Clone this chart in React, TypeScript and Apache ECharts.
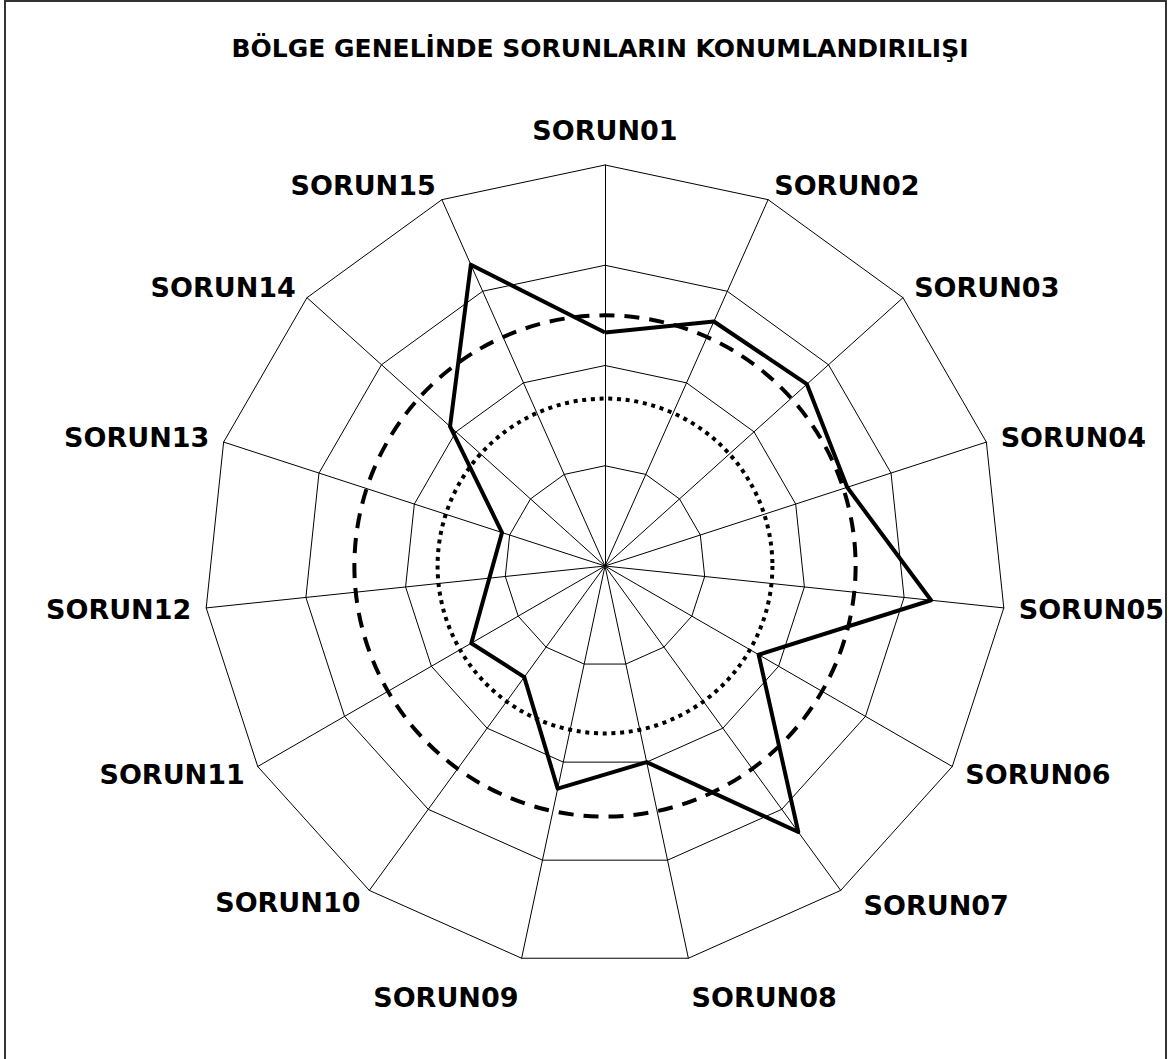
import React, { useEffect, useRef } from "react";
import * as echarts from "echarts";

const categories = [
  "SORUN01", "SORUN02", "SORUN03", "SORUN04", "SORUN05",
  "SORUN06", "SORUN07", "SORUN08", "SORUN09", "SORUN10",
  "SORUN11", "SORUN12", "SORUN13", "SORUN14", "SORUN15",
];
const scores = [2.33, 2.67, 2.71, 2.54, 3.27, 1.77, 3.28, 2.0, 2.27, 1.37, 1.54, 1.16, 1.08, 2.08, 3.29];
const dashedLevel = 2.5;
const dottedLevel = 1.67;
const axisMax = 4;
const titleText = "BÖLGE GENELİNDE SORUNLARIN KONUMLANDIRILIŞI";

export default function App() {
  const ref = useRef<HTMLDivElement>(null);
  useEffect(() => {
    if (!ref.current) return;
    const chart = echarts.init(ref.current, undefined, { renderer: "svg" });
    // ECharts radar runs counter-clockwise; reorder to draw clockwise
    const order = [0, ...Array.from({ length: categories.length - 1 }, (_, i) => categories.length - 1 - i)];
    const indicator = order.map((i) => ({ name: categories[i], min: 0, max: axisMax }));
    const values = order.map((i) => scores[i]);
    const center = [605, 566];
    const radius = 401;
    const font = "'DejaVu Sans', sans-serif";
    const base = { color: "#000", fontFamily: font, fontWeight: "bold", fontSize: 27 };
    chart.setOption({
      animation: false,
      backgroundColor: "#ffffff",
      title: {
        text: titleText,
        left: 595,
        textAlign: "center",
        top: 31,
        textStyle: { fontFamily: font, fontWeight: "bold", fontSize: 25, color: "#000" },
      },
      radar: {
        center,
        radius,
        startAngle: 90,
        shape: "polygon",
        splitNumber: 4,
        indicator,
        nameGap: 15,
        axisName: {
          ...base,
          formatter: (name: string) => {
            if (name === "SORUN01") return "{top|" + name + "}";
            if (name === "SORUN08" || name === "SORUN09") return "{low|" + name + "}";
            if (name === "SORUN07") return "{right|" + name + "}";
            return "{n|" + name + "}";
          },
          rich: {
            n: { ...base },
            top: { ...base, padding: [0, 0, 6, 0] },
            low: { ...base, padding: [50, 0, 0, 0] },
            right: { ...base, padding: [6, 0, 0, 14] },
          },
        },
        axisLine: { lineStyle: { color: "#000", width: 1 } },
        splitLine: { lineStyle: { color: "#000", width: 1 } },
        splitArea: { show: false },
      },
      polar: { center, radius },
      angleAxis: { type: "value", min: 0, max: 360, show: false },
      radiusAxis: { type: "value", min: 0, max: axisMax, show: false },
      series: [
        {
          type: "radar",
          symbol: "none",
          lineStyle: { color: "#000", width: 4 },
          data: [{ value: values }],
        },
        {
          type: "custom",
          coordinateSystem: "polar",
          data: [
            [dashedLevel, 0, 0],
            [dottedLevel, 0, 1],
          ],
          renderItem: (params: any, api: any) => {
            const c = api.coord([0, 0]);
            const p = api.coord([api.value(0), 0]);
            const r = Math.hypot(p[0] - c[0], p[1] - c[1]);
            const dotted = api.value(2) === 1;
            return {
              type: "circle",
              shape: { cx: c[0], cy: c[1], r },
              style: {
                fill: "none",
                stroke: "#000",
                lineWidth: 4,
                lineDash: dotted ? [4, 4.7] : [15, 10],
              },
            };
          },
        },
      ],
      graphic: [
        {
          type: "rect",
          shape: { x: 5, y: 1, width: 1161, height: 1100 },
          style: { fill: "none", stroke: "#333", lineWidth: 2 },
        },
      ],
    });
    return () => chart.dispose();
  }, []);
  return (
    <div
      ref={ref}
      style={{ position: "fixed", left: 0, top: 0, width: 1175, height: 1059, background: "#fff" }}
    />
  );
}
